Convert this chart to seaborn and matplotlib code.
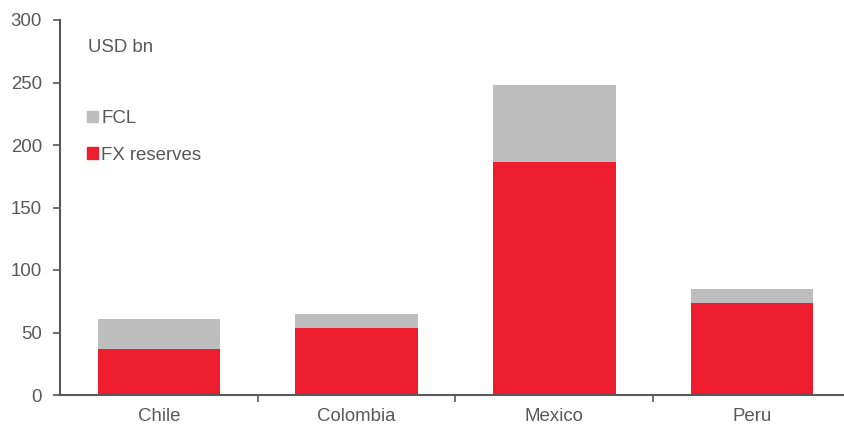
import matplotlib
matplotlib.use("Agg")
import matplotlib.pyplot as plt
from matplotlib.patches import Patch
import seaborn as sns
import pandas as pd

countries = ["Chile", "Colombia", "Mexico", "Peru"]
fx_reserves = [36.5, 53.7, 186.5, 74.0]
fcl = [24.0, 10.8, 61.2, 11.0]

RED = "#ED1C2E"
GREY = "#BEBEBE"
AXC = "#595959"
FS = 13.4

df = pd.DataFrame({"country": countries, "fx": fx_reserves, "fcl": fcl})
df["total"] = df["fx"] + df["fcl"]

sns.set_style("white")
plt.rcParams["font.family"] = ["Liberation Sans", "DejaVu Sans"]

fig = plt.figure(figsize=(8.45, 4.24), dpi=100)
ax = fig.add_axes([60 / 845, 29 / 424, 1 - 60 / 845, 375 / 424])

# stacked: total in grey first, FX reserves on top in red
sns.barplot(data=df, x="country", y="total", color=GREY, width=0.62,
            saturation=1, ax=ax, edgecolor="none")
sns.barplot(data=df, x="country", y="fx", color=RED, width=0.62,
            saturation=1, ax=ax, edgecolor="none")

ax.set_ylim(0, 300)
ax.set_yticks(range(0, 301, 50))
ax.set_xlim(-0.5, 3.47)
ax.set_xlabel("")
ax.set_ylabel("")

for s in ["top", "right"]:
    ax.spines[s].set_visible(False)
for s in ["left", "bottom"]:
    ax.spines[s].set_color(AXC)
    ax.spines[s].set_linewidth(1.5)

ax.tick_params(axis="y", direction="out", length=5, width=1.2, color=AXC,
               labelcolor=AXC, labelsize=FS, pad=8, left=True)
ax.tick_params(axis="x", length=0, labelcolor=AXC, labelsize=FS, pad=9.5)
# category boundary ticks on x axis
ax.set_xticks([0.5, 1.5, 2.5], minor=True)
ax.tick_params(axis="x", which="minor", direction="out", length=5, width=1.2,
               color=AXC, bottom=True)

ax.text(0.036, 0.928, "USD bn", transform=ax.transAxes, fontsize=FS,
        color=AXC, va="center")
handles = [Patch(color=GREY, label="FCL"), Patch(color=RED, label="FX reserves")]
leg = ax.legend(handles=handles, loc="upper left", bbox_to_anchor=(0.035, 0.76),
                frameon=False, fontsize=FS, handlelength=0.55, handleheight=0.55,
                handletextpad=0.2, labelspacing=1.05, borderaxespad=0,
                borderpad=0)
for t in leg.get_texts():
    t.set_color(AXC)

fig.savefig("out.png", dpi=100)
